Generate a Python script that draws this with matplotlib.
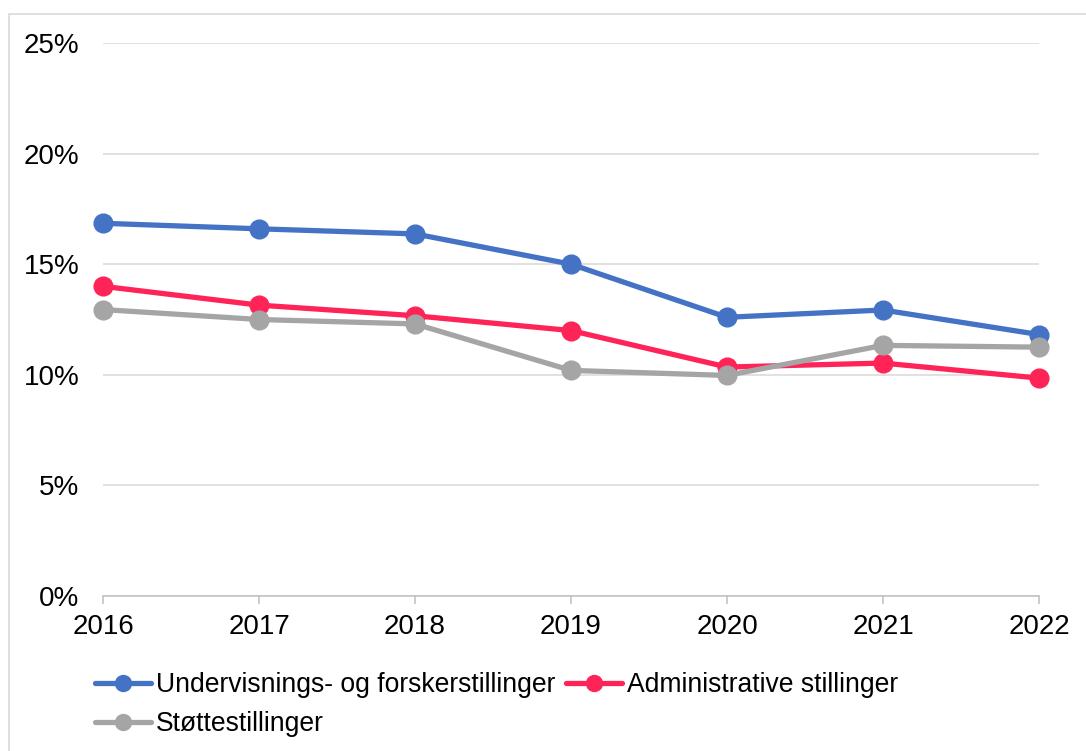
import matplotlib.pyplot as plt
from matplotlib.patches import Rectangle
from matplotlib.ticker import FuncFormatter

plt.rcParams['font.family'] = ['Liberation Sans', 'DejaVu Sans']

years = [2016, 2017, 2018, 2019, 2020, 2021, 2022]
undervisning = [16.85, 16.6, 16.37, 15.0, 12.6, 12.93, 11.82]
administrative = [14.0, 13.15, 12.67, 12.0, 10.35, 10.53, 9.85]
stotte = [12.95, 12.5, 12.3, 10.2, 9.97, 11.33, 11.25]

series = [
    ('Undervisnings- og forskerstillinger', undervisning, '#4472C4'),
    ('Administrative stillinger', administrative, '#FF2457'),
    ('Støttestillinger', stotte, '#A5A5A5'),
]

fig = plt.figure(figsize=(10.86, 7.51), dpi=100)
ax = fig.add_axes([103/1086, 1 - 596/751, (1039 - 103)/1086, (596 - 43)/751])

handles = {}
for name, vals, col in series:
    h, = ax.plot(years, vals, color=col, lw=3.8, marker='o', ms=13.5,
                 solid_joinstyle='round', solid_capstyle='round', clip_on=False)
    handles[name] = h

ax.set_xlim(2016, 2022)
ax.set_ylim(0, 25)
ax.set_yticks([0, 5, 10, 15, 20, 25])
ax.yaxis.set_major_formatter(FuncFormatter(lambda v, p: f'{v:.0f}%'))
ax.set_xticks(years)
ax.grid(axis='y', color='#D9D9D9', lw=1.1)
ax.set_axisbelow(True)
for s in ['left', 'right', 'top']:
    ax.spines[s].set_visible(False)
ax.spines['bottom'].set_color('#BFBFBF')
ax.spines['bottom'].set_linewidth(1.1)
ax.tick_params(axis='y', length=0, pad=17, labelsize=20)
ax.tick_params(axis='x', length=6, color='#BFBFBF', width=1.1, pad=7, labelsize=20)

# row-major order in a two-column legend
order = ['Undervisnings- og forskerstillinger', 'Støttestillinger', 'Administrative stillinger']
fig.legend([handles[n] for n in order], order, ncol=2, frameon=False,
           loc='upper left', bbox_to_anchor=(95/1086, 1 - 672/751),
           fontsize=19.1, handlelength=2.1, handletextpad=0.2,
           columnspacing=0.4, labelspacing=0.5, borderaxespad=0,
           borderpad=0, markerscale=0.85)

fig.add_artist(Rectangle((9/1086, -0.1), 1.2, 1.1 - 14/751, transform=fig.transFigure,
                         fill=False, edgecolor='#D9D9D9', lw=1.2))

fig.savefig('out.png', dpi=100)
